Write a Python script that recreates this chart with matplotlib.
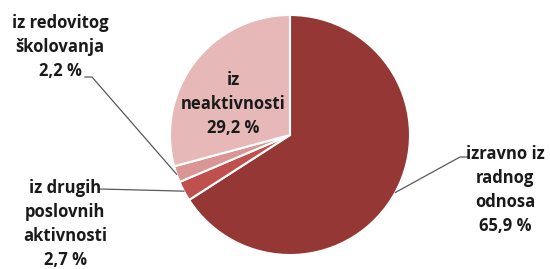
import numpy as np
import matplotlib
matplotlib.use("Agg")
import matplotlib.pyplot as plt

# data
labels = ["izravno iz\nradnog\nodnosa\n65,9 %",
          "iz drugih\nposlovnih\naktivnosti\n2,7 %",
          "iz redovitog\nškolovanja\n2,2 %",
          "iz\nneaktivnosti\n29,2 %"]
shares = [65.9, 2.7, 2.2, 29.2]
colors = ["#953735", "#C0504D", "#D99694", "#E6B9B8"]

W, H = 550, 269
plt.rcParams["font.family"] = ["Open Sans", "DejaVu Sans"]

fig = plt.figure(figsize=(W / 100, H / 100), dpi=100)
ax = fig.add_axes([0, 0, 1, 1])

cx, cy, r = 290, H - 135, 120
wedges, _ = ax.pie(shares, colors=colors, startangle=90, counterclock=False,
                   center=(cx, cy), radius=r,
                   wedgeprops=dict(edgecolor="white", linewidth=1.5))
ax.set_xlim(0, W)
ax.set_ylim(0, H)
ax.set_aspect("auto")
ax.axis("off")


def edge_point(w):
    mid = np.deg2rad((w.theta1 + w.theta2) / 2)
    return cx + r * np.cos(mid), cy + r * np.sin(mid)


txt = dict(ha="center", va="center", fontsize=12, fontweight="bold",
           color="#1a1a1a", linespacing=1.45)

# label positions (pixel coords, y from top)
label_pos = [(505, 190), (65, 224), (60, 47), (233, 104)]
leader_start = [[(468, 157), (460, 157)], [(100, 189)], [(85, 77), (92, 77)], None]

for i, (lab, (px, py)) in enumerate(zip(labels, label_pos)):
    ax.text(px, H - py, lab, **txt)
    if leader_start[i] is None:
        continue
    pts = [(x, H - y) for x, y in leader_start[i]] + [edge_point(wedges[i])]
    xs, ys = zip(*pts)
    ax.plot(xs, ys, color="#595959", linewidth=0.9)

fig.savefig("out.png", dpi=100)
